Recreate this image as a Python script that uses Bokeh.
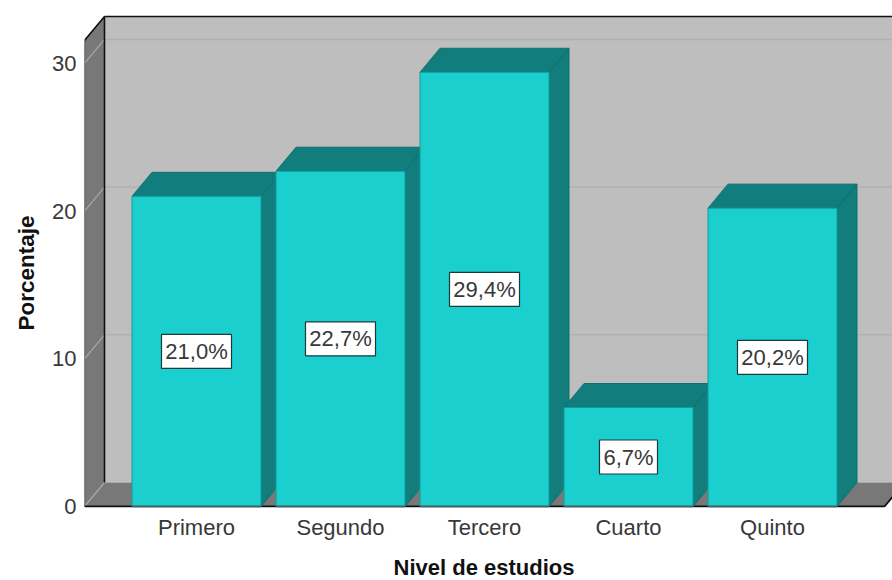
from bokeh.plotting import figure
from bokeh.models import Range1d, FixedTicker, Title
from bokeh.core.properties import value
from bokeh.embed import file_html
from bokeh.resources import INLINE

categories = ["Primero", "Segundo", "Tercero", "Cuarto", "Quinto"]
percentages = [21.0, 22.7, 29.4, 6.7, 20.2]
labels = ["21,0%", "22,7%", "29,4%", "6,7%", "20,2%"]
y_ticks = [0, 10, 20, 30]

PX_X = 144.0
PX_Y = 14.77
FRAME_W, FRAME_H = 808, 499
FONT = "Liberation Sans"
TXT = "#383838"
DX = 20 / PX_X
DY = 24 / PX_Y
BAR_HALF = 64.5 / PX_X
XL = -112 / PX_X
XR = XL + 800 / PX_X
YT = 31.55

x0 = XL
x_end = x0 + FRAME_W / PX_X
y0 = -1 / PX_Y
y_end = y0 + FRAME_H / PX_Y

p = figure(width=892, height=580, output_backend="svg", toolbar_location=None,
           x_range=Range1d(x0, x_end), y_range=Range1d(y0, y_end),
           min_border_left=84, min_border_right=0, min_border_top=8, min_border_bottom=73,
           frame_width=FRAME_W, frame_height=FRAME_H)
p.outline_line_color = None
p.grid.visible = False
p.background_fill_color = "white"

WALL, SIDE = "#BEBEBE", "#787878"
p.patch([XL + DX, x_end + 1, x_end + 1, XL + DX], [0 + DY, 0 + DY, YT + DY, YT + DY], fill_color=WALL, line_color=None)
p.patch([XL, XL + DX, XL + DX, XL], [0, DY, YT + DY, YT], fill_color=SIDE, line_color=None)
p.patch([XL, XR, XR + DX, XL + DX], [0, 0, DY, DY], fill_color=SIDE, line_color=None)

grid_ticks = y_ticks[1:]
p.segment([XL + DX] * 3, [t + DY for t in grid_ticks], [x_end + 1] * 3, [t + DY for t in grid_ticks],
          line_color="#B0B0B0", line_width=1.5)
p.segment([XL] * 4, y_ticks, [XL + DX] * 4, [t + DY for t in y_ticks],
          line_color="#A8A8A8", line_width=1.2)

p.line([XL, XL + DX, XL + DX], [YT, YT + DY, DY], line_color="#111111", line_width=1.6)
p.line([XL + DX, x_end + 1], [YT + DY, YT + DY], line_color="#111111", line_width=1.6)
p.line([XL, XL], [0, YT], line_color="#333333", line_width=1.2)
p.line([XL, XR, XR + DX], [0, 0, DY], line_color="#111111", line_width=1.8)

FRONT, DARK = "#1CCFCF", "#127D7D"
for i, v in enumerate(percentages):
    l, r = i - BAR_HALF, i + BAR_HALF
    p.patch([l, r, r + DX, l + DX], [v, v, v + DY, v + DY], fill_color=DARK, line_color="#0F7070", line_width=1)
    p.patch([r, r + DX, r + DX, r], [0, DY, v + DY, v], fill_color=DARK, line_color="#0F7070", line_width=1)
    p.quad(left=l, right=r, bottom=0, top=v, fill_color=FRONT, line_color="#119C9C", line_width=1)
    p.line([l, r], [0, 0], line_color="#3C6060", line_width=1.8)

mid = [v / 2 for v in percentages]
xs = list(range(len(categories)))
box_w = [70, 70, 70, 58, 70]
p.rect(xs, mid, width=box_w, height=34, width_units="screen", height_units="screen",
       fill_color="white", line_color="#1A3A3A", line_width=1.2)
p.text(xs, mid, text=labels, text_align="center", text_baseline="middle",
       text_font=value(FONT), text_font_size="22px", text_color=TXT)

xa = p.xaxis[0]
xa.ticker = FixedTicker(ticks=xs)
xa.major_label_overrides = dict(zip(xs, categories))
xa.axis_line_color = None
xa.major_tick_line_color = None
xa.minor_tick_line_color = None
xa.major_label_text_font = FONT
xa.major_label_text_font_size = "22px"
xa.major_label_text_color = TXT
xa.major_label_standoff = 1

ya = p.yaxis[0]
ya.ticker = FixedTicker(ticks=y_ticks)
ya.axis_line_color = None
ya.major_tick_line_color = None
ya.minor_tick_line_color = None
ya.major_label_text_font = FONT
ya.major_label_text_font_size = "22px"
ya.major_label_text_color = TXT
ya.major_label_standoff = 2

p.add_layout(Title(text="Nivel de estudios", align="left", offset=309, standoff=21,
                   text_font=FONT, text_font_size="22px", text_font_style="bold",
                   text_color="#111111"), "below")
p.add_layout(Title(text="Porcentaje", align="left", offset=177, standoff=21,
                   text_font=FONT, text_font_size="22.5px", text_font_style="bold",
                   text_color="#111111"), "left")

open("out.html", "w").write(file_html(p, INLINE))
